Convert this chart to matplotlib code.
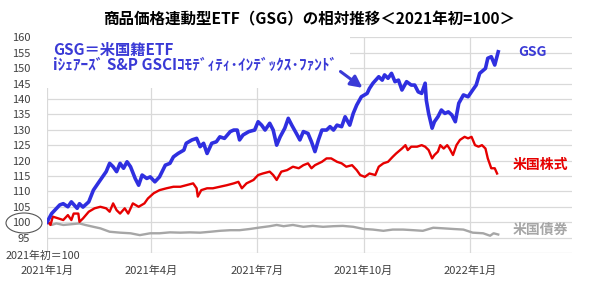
import matplotlib
matplotlib.use("Agg")
import matplotlib.pyplot as plt
import matplotlib.dates as mdates
from matplotlib.patches import Rectangle, Ellipse
import pandas as pd

plt.rcParams['font.family'] = ['Noto Sans CJK JP', 'DejaVu Sans']

# ---------------- data (days since 2021-01-01, index value) ----------------
gsg_days = [0, 1, 4, 7, 11, 14, 18, 21, 26, 28, 31, 36, 40, 46, 51, 54, 57, 60, 63, 66, 69, 72,
            76, 79, 82, 86, 89, 93, 97, 102, 106, 109, 113, 118, 120, 125, 129, 132, 135, 138,
            142, 146, 149, 153, 158, 161, 164, 166, 169, 174, 179, 182, 185, 188, 192, 195,
            198, 201, 205, 208, 211, 215, 218, 221, 225, 228, 231, 234, 237, 241, 244, 247,
            250, 254, 257, 261, 264, 267, 271, 276, 278, 281, 286, 289, 291, 294, 297, 300,
            303, 306, 310, 314, 317, 320, 323, 326, 327, 329, 332, 334, 337, 340, 343, 346,
            349, 352, 355, 359, 363, 367, 370, 373, 378, 380, 383, 386, 389]
gsg_vals = [100, 100.7, 102.8, 104, 105.6, 106, 105, 106.6, 104.5, 106, 104.9, 106.6, 110.4,
            113.7, 116.4, 119.1, 118, 116.4, 119.1, 117.5, 119.6, 118, 114.2, 112, 115.3,
            114.2, 114.7, 113.1, 114.7, 118.5, 119.1, 121.2, 122.3, 123.4, 125.6, 126.7,
            127.2, 124.5, 125.6, 122.3, 125.6, 126.1, 127.7, 127.2, 129.4, 129.9, 129.9,
            126.7, 128.3, 129.4, 129.9, 132.6, 131.5, 129.9, 132.1, 129.9, 125.0, 127.7,
            130.5, 133.7, 131.5, 128.8, 126.7, 129.4, 128.8, 126.1, 122.9, 126.7, 129.9,
            129.9, 131, 129.9, 131.5, 131, 134.2, 131.5, 135.3, 138, 140.7, 141.8, 143.4,
            145.1, 147.2, 146.1, 147.8, 146.7, 148.3, 145.6, 146.1, 142.9, 145.6, 144.5,
            144.5, 142.3, 141.8, 145.1, 139.6, 135.3, 130.5, 132.6, 134.2, 136.4, 135.3,
            135.8, 134.8, 132.6, 138.6, 141.3, 140.7, 142.9, 144.5, 148.3, 149.9, 153.2,
            153.7, 151, 155.3]

stock_days = [0, 1, 3, 5, 10, 14, 18, 21, 23, 27, 28, 31, 36, 41, 46, 51, 54, 57, 60, 63, 67,
              70, 74, 79, 84, 87, 92, 97, 103, 109, 115, 120, 126, 129, 130, 133, 138, 143,
              149, 155, 161, 165, 168, 172, 178, 182, 186, 192, 195, 198, 202, 207, 212, 217,
              221, 225, 228, 231, 237, 241, 245, 250, 254, 258, 263, 267, 270, 274, 278, 283,
              286, 290, 294, 298, 301, 306, 309, 311, 314, 319, 323, 326, 329, 332, 334, 337,
              339, 342, 345, 347, 350, 353, 356, 360, 363, 366, 369, 372, 375, 378, 380, 383,
              386, 388]
stock_vals = [100, 100.1, 99.1, 101.8, 101.2, 100.7, 102.3, 100.7, 102.8, 102.8, 100.1, 101.2,
              103.4, 104.5, 105, 104.5, 103.4, 106.1, 103.9, 102.8, 104.5, 102.8, 106.1, 105,
              106.1, 107.7, 109.4, 110.4, 111, 111.5, 111.5, 112, 112.6, 111, 108.3, 110.4,
              111, 111, 111.5, 112, 112.6, 113.1, 111, 112.6, 113.7, 115.3, 115.8, 116.4,
              115.3, 113.7, 116.4, 116.9, 118, 117.5, 118.5, 119.1, 117.5, 118.5, 119.6,
              120.7, 120.7, 119.6, 119.1, 118, 118.5, 116.9, 115.3, 114.7, 115.8, 115.3, 118,
              119.1, 119.6, 121.2, 122.3, 123.9, 125, 123.4, 124.5, 124.5, 125, 124.5, 123.4,
              120.7, 121.8, 122.9, 125, 123.9, 125, 123.9, 121.8, 125, 126.7, 127.7, 127.2,
              127.7, 125, 124.5, 125, 123.9, 120.7, 117.5, 117.5, 115.8]

bond_days = [0, 4, 8, 14, 20, 28, 33, 40, 46, 54, 63, 72, 80, 89, 97, 106, 115, 123, 132, 141,
             149, 158, 166, 175, 184, 192, 198, 204, 212, 221, 229, 238, 247, 255, 264, 273,
             281, 290, 298, 307, 316, 324, 333, 342, 350, 359, 367, 376, 382, 385, 389]
bond_vals = [100, 99.1, 99.6, 99.1, 99.3, 99.6, 99.1, 98.5, 98, 96.9, 96.6, 96.4, 95.8, 96.4,
             96.4, 96.7, 96.6, 96.7, 96.6, 96.9, 97.2, 97.4, 97.4, 97.8, 98.3, 98.7, 99.1,
             98.7, 99.1, 98.5, 98.8, 98.5, 98.7, 98.8, 98.5, 97.8, 97.6, 97.2, 97.6, 97.6,
             97.4, 97.2, 98.2, 98, 97.8, 97.6, 96.6, 96.4, 95.6, 96.4, 96]

tick_dates = ['2021-01-01', '2021-04-01', '2021-07-01', '2021-10-01', '2022-01-01']
tick_labels = ['2021年1月', '2021年4月', '2021年7月', '2021年10月', '2022年1月']
y_ticks = [95, 100, 105, 110, 115, 120, 125, 130, 135, 140, 145, 150, 155, 160]

# ---------------- styling ----------------
BLUE = '#2f2fe0'
BLUE_TXT = '#3a3ad6'
RED = '#e60000'
GRAY = '#a6a6a6'
GRID = '#d9d9d9'
TXT = '#404040'

base = pd.Timestamp('2021-01-01')
to_dates = lambda d: base + pd.to_timedelta(d, unit='D')

W, H = 600, 287
fig = plt.figure(figsize=(W / 100, H / 100), dpi=100)
ax = fig.add_axes([47 / W, 1 - 253 / H, (572 - 47) / W, (253 - 37.3) / H])

ax.set_xlim(base, base + pd.Timedelta(days=452.6))
ax.set_ylim(90, 160)
ax.set_axisbelow(True)

ax.plot(to_dates(bond_days), bond_vals, color=GRAY, lw=1.7, zorder=3)
ax.plot(to_dates(stock_days), stock_vals, color=RED, lw=1.7, zorder=4)
ax.plot(to_dates(gsg_days), gsg_vals, color=BLUE, lw=2.6, zorder=5)

ax.set_yticks([90] + y_ticks)
ax.set_yticklabels([''] + [str(v) for v in y_ticks])
ax.set_xticks(pd.to_datetime(tick_dates))
ax.set_xticklabels(tick_labels)
ax.tick_params(axis='both', length=0, labelsize=8, labelcolor=TXT)
ax.tick_params(axis='y', pad=12)
ax.tick_params(axis='x', pad=9)
ax.grid(True, color=GRID, lw=0.9)
for s in ax.spines.values():
    s.set_visible(False)

# white box behind annotation
ax.add_patch(Rectangle((mdates.date2num(base), 143.5),
                       mdates.date2num(base + pd.Timedelta(days=261)) - mdates.date2num(base),
                       20, facecolor='white', edgecolor='none', zorder=1))

# arrow
ax.annotate('', xy=(base + pd.Timedelta(days=272), 143.6),
            xytext=(base + pd.Timedelta(days=253), 148.9),
            arrowprops=dict(arrowstyle='-|>,head_length=0.7,head_width=0.35', color=BLUE_TXT,
                            lw=2.2, shrinkA=0, shrinkB=0, mutation_scale=10),
            zorder=6)

def ftext(x, y, s, **kw):
    fig.text(x / W, 1 - y / H, s, **kw)

ftext(309, 19, '商品価格連動型ETF（GSG）の相対推移＜2021年初=100＞', ha='center', va='center',
      fontsize=11.2, fontweight='bold', color='black')
ftext(53, 50, 'GSG＝米国籍ETF', ha='left', va='center', fontsize=11, fontweight='bold',
      color=BLUE_TXT)
ftext(53, 65, 'iｼｪｱｰｽﾞ S&P GSCIｺﾓﾃﾞｨﾃｨ･ｲﾝﾃﾞｯｸｽ･ﾌｧﾝﾄﾞ', ha='left', va='center', fontsize=11,
      fontweight='bold', color=BLUE_TXT)
ftext(518, 52, 'GSG', ha='left', va='center', fontsize=10, fontweight='bold', color=BLUE_TXT)
ftext(513, 165, '米国株式', ha='left', va='center', fontsize=10, fontweight='bold', color=RED)
ftext(513, 230, '米国債券', ha='left', va='center', fontsize=10, fontweight='bold', color=GRAY)
ftext(43, 256, '2021年初＝100', ha='center', va='center', fontsize=7.8, color=TXT)

fig.add_artist(Ellipse((24 / W, 1 - 223 / H), 36 / W, 20 / H, transform=fig.transFigure,
                       facecolor='none', edgecolor='#555555', lw=0.8))

fig.savefig('out.png', dpi=100)
